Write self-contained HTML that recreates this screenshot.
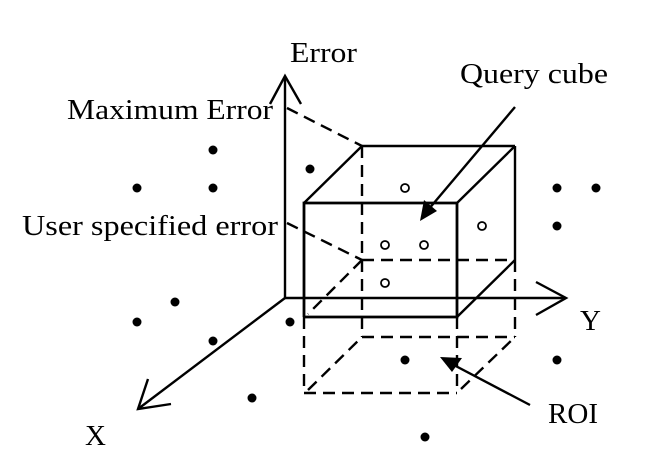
<!DOCTYPE html>
<html><head><meta charset="utf-8"><style>html,body{margin:0;padding:0;background:#fff}svg{display:block}</style></head>
<body>
<svg width="650" height="466" viewBox="0 0 650 466" xmlns="http://www.w3.org/2000/svg">
<g font-family="'Liberation Serif', serif" font-size="29" fill="#000">
<text x="290" y="62" textLength="67" lengthAdjust="spacingAndGlyphs">Error</text>
<text x="67" y="119" textLength="206" lengthAdjust="spacingAndGlyphs">Maximum Error</text>
<text x="460" y="83" textLength="148" lengthAdjust="spacingAndGlyphs">Query cube</text>
<text x="22" y="235" textLength="256" lengthAdjust="spacingAndGlyphs">User specified error</text>
<text x="580" y="330">Y</text>
<text x="85" y="445">X</text>
<text x="548" y="423" textLength="50" lengthAdjust="spacingAndGlyphs">ROI</text>
</g>
<g stroke="#000" stroke-width="2.4" fill="none">
<line x1="285" y1="298" x2="285" y2="76"/>
<polyline points="270,104 285,76 301,104"/>
<line x1="285" y1="298" x2="566" y2="298"/>
<polyline points="536,282 566,298 536,315"/>
<line x1="285" y1="298" x2="138" y2="409"/>
<polyline points="148,379 138,409 171,404"/>
<polyline points="304,317 304,203 457,203 457,317 304,317" stroke-width="2.8"/>
<line x1="304" y1="203" x2="362" y2="146"/>
<line x1="457" y1="203" x2="515" y2="146"/>
<line x1="362" y1="146" x2="515" y2="146"/>
<line x1="515" y1="146" x2="515" y2="260"/>
<line x1="457" y1="317" x2="515" y2="260"/>
<line x1="515" y1="107" x2="428" y2="210"/>
<line x1="530" y1="405" x2="450" y2="363"/>
</g>
<polygon points="420,221 424,200 437,211" fill="#000"/>
<polygon points="440,357 462,358 452,372" fill="#000"/>
<g stroke="#000" stroke-width="2.4" fill="none" stroke-dasharray="12,7">
<line x1="287" y1="108" x2="362" y2="146"/>
<line x1="287" y1="223" x2="362" y2="260"/>
<line x1="362" y1="146" x2="362" y2="337"/>
<line x1="515" y1="260" x2="515" y2="337"/>
<line x1="362" y1="260" x2="515" y2="260"/>
<line x1="362" y1="260" x2="308" y2="314"/>
<line x1="304" y1="317" x2="304" y2="393"/>
<line x1="457" y1="317" x2="457" y2="393"/>
<line x1="362" y1="337" x2="515" y2="337"/>
<line x1="304" y1="393" x2="457" y2="393"/>
<line x1="308" y1="390" x2="362" y2="337"/>
<line x1="461" y1="389" x2="515" y2="337"/>
</g>
<g fill="#000">
<circle cx="213" cy="150" r="4.5"/><circle cx="137" cy="188" r="4.5"/><circle cx="213" cy="188" r="4.5"/>
<circle cx="310" cy="169" r="4.5"/><circle cx="557" cy="188" r="4.5"/><circle cx="596" cy="188" r="4.5"/>
<circle cx="557" cy="226" r="4.5"/><circle cx="175" cy="302" r="4.5"/><circle cx="137" cy="322" r="4.5"/>
<circle cx="213" cy="341" r="4.5"/><circle cx="290" cy="322" r="4.5"/><circle cx="405" cy="360" r="4.5"/>
<circle cx="557" cy="360" r="4.5"/><circle cx="252" cy="398" r="4.5"/><circle cx="425" cy="437" r="4.5"/>
</g>
<g fill="none" stroke="#000" stroke-width="1.8">
<circle cx="405" cy="188" r="4"/><circle cx="385" cy="245" r="4"/><circle cx="424" cy="245" r="4"/>
<circle cx="482" cy="226" r="4"/><circle cx="385" cy="283" r="4"/>
</g>
</svg>
</body></html>
